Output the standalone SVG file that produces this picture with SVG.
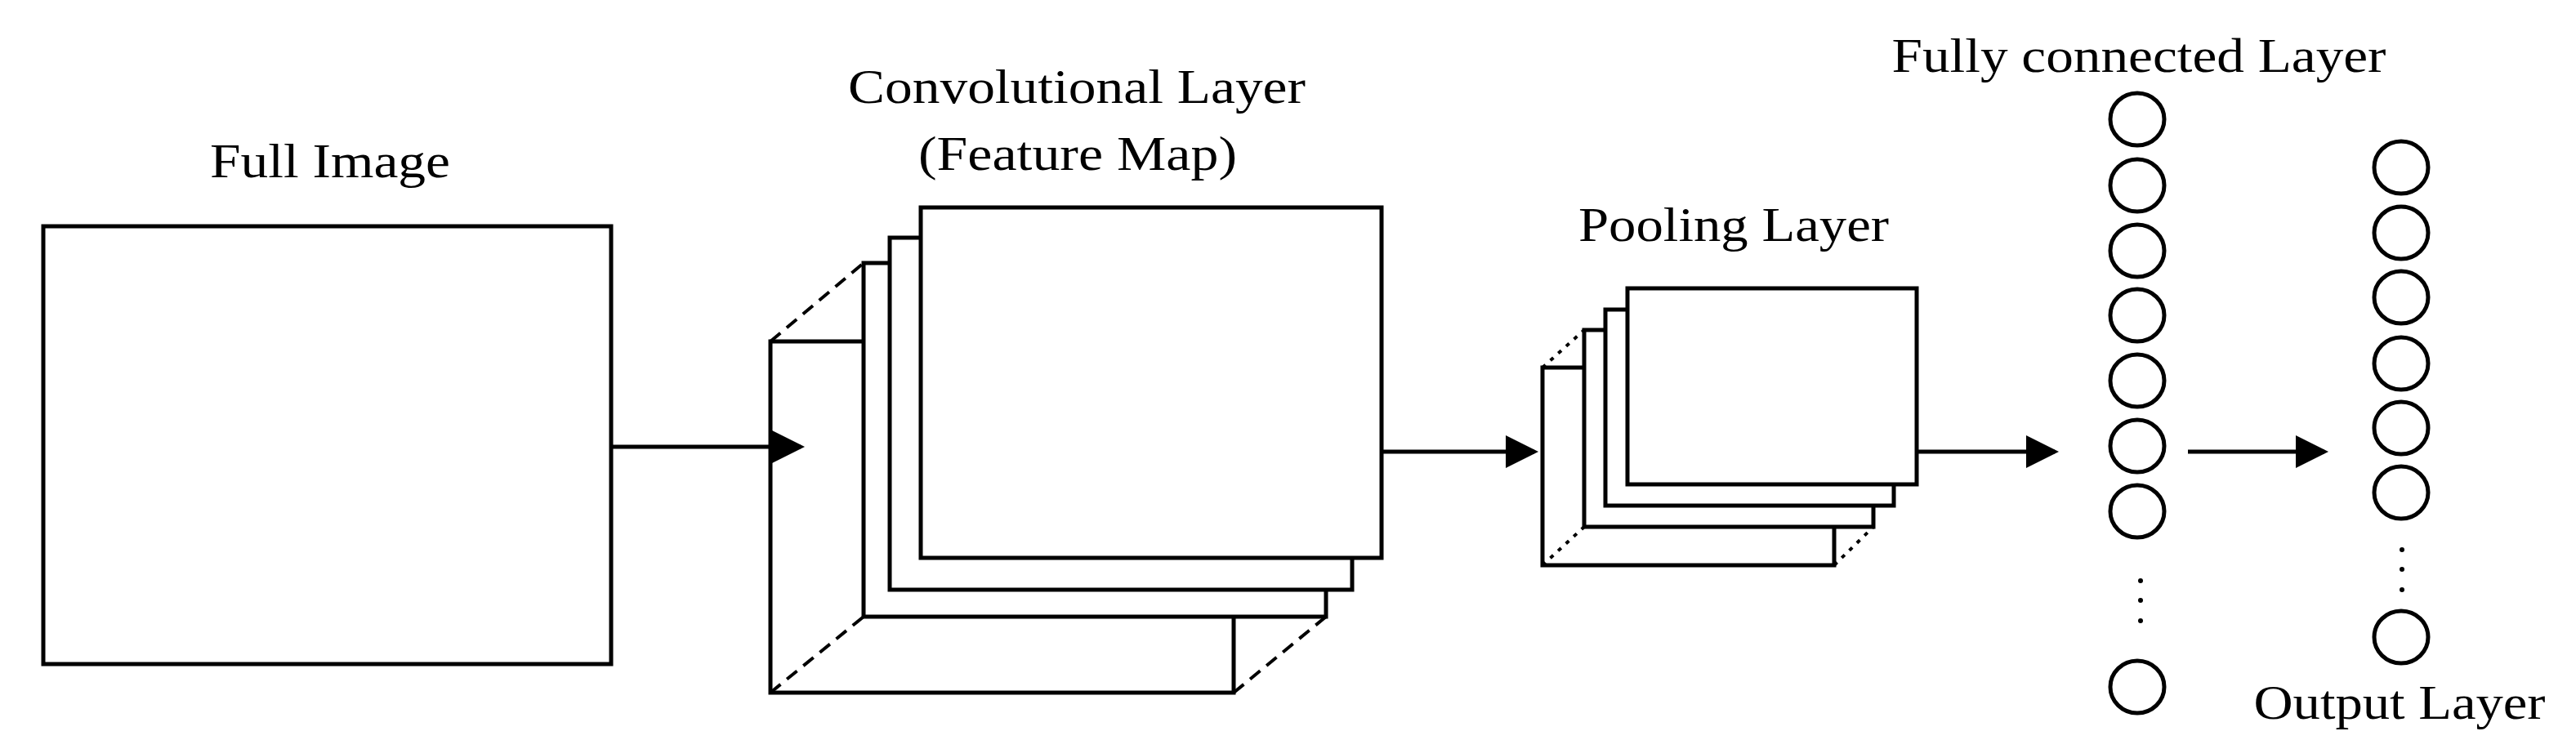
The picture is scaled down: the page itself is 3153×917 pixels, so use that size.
<svg xmlns="http://www.w3.org/2000/svg" width="3153" height="917" viewBox="0 0 3153 917">
<style>
.s{fill:#fff;stroke:#000;stroke-width:5}
.l{fill:none;stroke:#000;stroke-width:5}
.d{fill:none;stroke:#000;stroke-width:4;stroke-dasharray:16 10}
.o{fill:none;stroke:#000;stroke-width:4;stroke-dasharray:5 8}
.c{fill:#fff;stroke:#000;stroke-width:5}
.t{font-family:"Liberation Serif",serif;font-size:60px;fill:#000;text-anchor:middle}
.a{fill:none;stroke:#000;stroke-width:5;marker-end:url(#ah)}
</style>
<defs><marker id="ah" markerWidth="8" markerHeight="8" refX="7" refY="4" orient="auto" markerUnits="strokeWidth"><path d="M0,0 L8,4 L0,8 z" fill="#000"/></marker></defs>
<rect width="3153" height="917" fill="#fff"/>
<g id="full-image">
<text class="t" x="404" y="217" textLength="294" lengthAdjust="spacingAndGlyphs">Full Image</text>
<rect class="s" x="53" y="277" width="695" height="536"/>
</g>
<g id="conv-layer">
<text class="t" x="1318" y="126" textLength="560" lengthAdjust="spacingAndGlyphs">Convolutional Layer</text>
<text class="t" x="1319" y="208" textLength="390" lengthAdjust="spacingAndGlyphs">(Feature Map)</text>
<rect class="s" x="943" y="418" width="567" height="430"/>
<line class="d" x1="943" y1="418" x2="1057" y2="322"/>
<line class="d" x1="943" y1="848" x2="1057" y2="755"/>
<line class="d" x1="1510" y1="848" x2="1623" y2="755"/>
<rect class="s" x="1057" y="322" width="566" height="433"/>
<rect class="s" x="1089" y="291" width="566" height="431"/>
<rect class="s" x="1127" y="254" width="564" height="429"/>
</g>
<g id="pooling-layer">
<text class="t" x="2122" y="295" textLength="380" lengthAdjust="spacingAndGlyphs">Pooling Layer</text>
<rect class="s" x="1888" y="450" width="357" height="242"/>
<line class="o" x1="1888" y1="450" x2="1939" y2="404"/>
<line class="o" x1="1888" y1="692" x2="1939" y2="645"/>
<line class="o" x1="2245" y1="692" x2="2293" y2="645"/>
<rect class="s" x="1939" y="404" width="354" height="241"/>
<rect class="s" x="1965" y="379" width="353" height="240"/>
<rect class="s" x="1992" y="353" width="354" height="240"/>
</g>
<g id="fc-layer">
<text class="t" x="2618" y="88" textLength="605" lengthAdjust="spacingAndGlyphs">Fully connected Layer</text>
<ellipse class="c" cx="2616" cy="146" rx="33" ry="32"/>
<ellipse class="c" cx="2616" cy="227" rx="33" ry="32"/>
<ellipse class="c" cx="2616" cy="307" rx="33" ry="32"/>
<ellipse class="c" cx="2616" cy="386" rx="33" ry="32"/>
<ellipse class="c" cx="2616" cy="466" rx="33" ry="32"/>
<ellipse class="c" cx="2616" cy="546" rx="33" ry="32"/>
<ellipse class="c" cx="2616" cy="626" rx="33" ry="32"/>
<ellipse class="c" cx="2616" cy="841" rx="33" ry="32"/>
<circle cx="2620" cy="711" r="3"/><circle cx="2620" cy="735" r="3"/><circle cx="2620" cy="760" r="3"/>
</g>
<g id="output-layer">
<text class="t" x="2937" y="880" textLength="357" lengthAdjust="spacingAndGlyphs">Output Layer</text>
<ellipse class="c" cx="2939" cy="205" rx="33" ry="32"/>
<ellipse class="c" cx="2939" cy="285" rx="33" ry="32"/>
<ellipse class="c" cx="2939" cy="364" rx="33" ry="32"/>
<ellipse class="c" cx="2939" cy="445" rx="33" ry="32"/>
<ellipse class="c" cx="2939" cy="524" rx="33" ry="32"/>
<ellipse class="c" cx="2939" cy="603" rx="33" ry="32"/>
<ellipse class="c" cx="2939" cy="780" rx="33" ry="32"/>
<circle cx="2940" cy="673" r="3"/><circle cx="2940" cy="697" r="3"/><circle cx="2940" cy="722" r="3"/>
</g>
<g id="connectors">
<line class="a" x1="748" y1="547" x2="980" y2="547"/>
<line class="a" x1="1691" y1="553" x2="1878" y2="553"/>
<line class="a" x1="2346" y1="553" x2="2515" y2="553"/>
<line class="a" x1="2678" y1="553" x2="2845" y2="553"/>
</g>
</svg>
